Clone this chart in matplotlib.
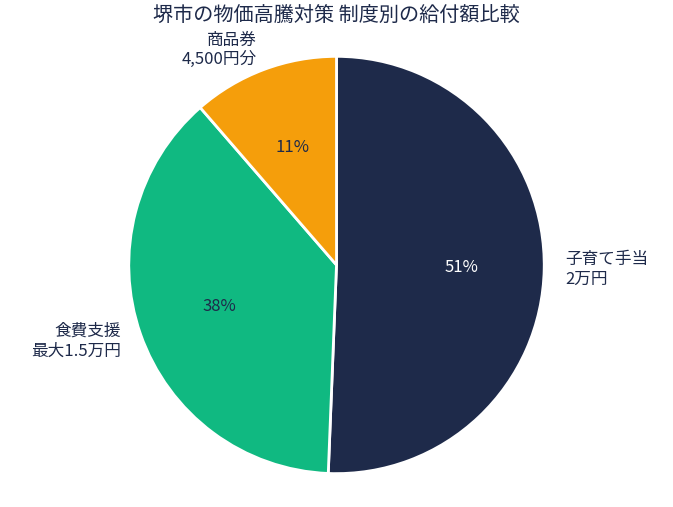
import matplotlib
matplotlib.use("Agg")
import matplotlib.pyplot as plt

plt.rcParams['font.family'] = ['Noto Sans CJK JP', 'DejaVu Sans']

labels = ["子育て手当\n2万円", "食費支援\n最大1.5万円", "商品券\n4,500円分"]
values = [20000, 15000, 4500]
colors = ["#1e2a4a", "#10b981", "#f59e0b"]
pct_colors = ["white", "#1e2a4a", "#1e2a4a"]

fig = plt.figure(figsize=(6.73, 5.07), dpi=100)
ax = fig.add_axes([0.0, 0.0, 1.0, 0.93])
wedges, texts, autotexts = ax.pie(values, labels=labels, colors=colors, startangle=90,
                                  counterclock=False, autopct='%1.0f%%', pctdistance=0.6,
                                  labeldistance=1.1, radius=1.0,
                                  wedgeprops=dict(edgecolor='white', linewidth=2),
                                  textprops=dict(fontsize=12, color='#1e2a4a'))
for t, c in zip(autotexts, pct_colors):
    t.set_color(c)
    t.set_fontsize(12)
ax.set_aspect('equal', adjustable='datalim')
ax.set_xlim(-1.62, 1.62)
ax.set_ylim(-1.16, 1.10)
fig.suptitle("堺市の物価高騰対策 制度別の給付額比較", fontsize=14.5, color='#1e2a4a', y=0.99)
fig.savefig("out.png", dpi=100)
